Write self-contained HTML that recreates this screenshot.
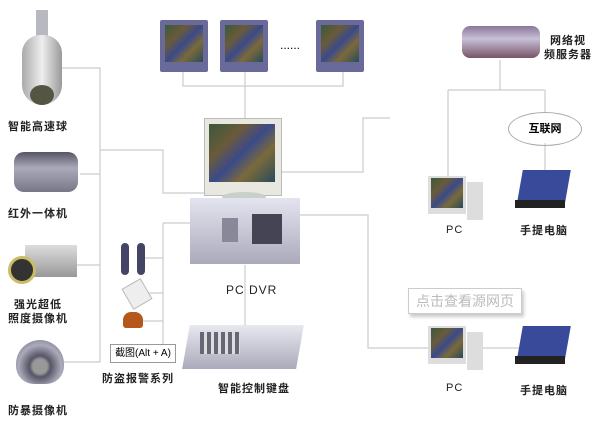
<!DOCTYPE html>
<html><head><meta charset="utf-8"><style>
body{margin:0;width:600px;height:422px;background:#fff;position:relative;overflow:hidden;font-family:"Liberation Sans","Noto Sans CJK SC",sans-serif}
.a{position:absolute}
.l{position:absolute;font-size:11px;font-weight:bold;color:#222;white-space:nowrap;letter-spacing:1px}
.scr{background:linear-gradient(135deg,#3a5a3a,#6a5a3a 30%,#3a4a8a 50%,#7a6a3a 70%,#2a4a5a)}
.mon{position:absolute;background:#6a6a9a;border-radius:2px}
.mon div{position:absolute;left:5px;top:5px;right:5px;bottom:10px}
</style></head><body>
<svg class="a" style="left:0;top:0" width="600" height="422">
<g stroke="#ccc" stroke-width="1.2" fill="none">
<path d="M60 68H100V362H62M80 174H100M75 265H100M100 150H163V193H205"/>
<path d="M183 72V86H343V72M245 72V86M245 86V120"/>
<path d="M280 172H363V118H390"/>
<path d="M300 215H368V348H430"/>
<path d="M163 223V345M145 258H163M145 293H163M143 321H163M163 223H205"/>
<path d="M245 265V325"/>
<path d="M500 60V90M448 90H545M448 90V180M545 90V112M545 143V170M483 348H520"/>
</g></svg>
<!-- left cameras -->
<div class="a" style="left:36px;top:10px;width:12px;height:30px;background:#b8b8c0"></div>
<div class="a" style="left:22px;top:35px;width:40px;height:70px;border-radius:20px 20px 22px 22px;background:linear-gradient(90deg,#aaa,#eee,#999)"></div>
<div class="a" style="left:30px;top:85px;width:24px;height:20px;border-radius:50%;background:#554"></div>
<div class="l" style="left:8px;top:118px">智能高速球</div>
<div class="a" style="left:14px;top:152px;width:64px;height:40px;border-radius:10px;background:linear-gradient(#556,#aab 40%,#778)"></div>
<div class="l" style="left:8px;top:205px">红外一体机</div>
<div class="a" style="left:25px;top:245px;width:52px;height:32px;background:linear-gradient(#ddd,#999)"></div>
<div class="a" style="left:8px;top:256px;width:22px;height:22px;border-radius:50%;background:#333;border:3px solid #cb6"></div>
<div class="l" style="left:14px;top:296px">强光超低</div>
<div class="l" style="left:8px;top:310px">照度摄像机</div>
<div class="a" style="left:16px;top:340px;width:48px;height:44px;border-radius:24px 24px 18px 18px;background:radial-gradient(circle at 50% 60%,#999 20%,#556 30%,#aab 60%,#667)"></div>
<div class="l" style="left:8px;top:402px">防暴摄像机</div>
<!-- monitors -->
<div class="mon" style="left:160px;top:20px;width:48px;height:52px"><div class="scr"></div></div>
<div class="mon" style="left:220px;top:20px;width:48px;height:52px"><div class="scr"></div></div>
<div class="a" style="left:280px;top:38px;font-size:12px">......</div>
<div class="mon" style="left:316px;top:20px;width:48px;height:52px"><div class="scr"></div></div>
<!-- DVR -->
<div class="a" style="left:204px;top:118px;width:76px;height:76px;background:#e8e8e0;border:1px solid #bbb"></div>
<div class="a scr" style="left:209px;top:124px;width:66px;height:58px"></div>
<div class="a" style="left:222px;top:192px;width:44px;height:10px;background:#c8d0c8;border-radius:50%"></div>
<div class="a" style="left:190px;top:198px;width:110px;height:66px;background:linear-gradient(#e4e4f0,#aab)"></div>
<div class="a" style="left:222px;top:218px;width:16px;height:24px;background:#889"></div>
<div class="a" style="left:252px;top:214px;width:30px;height:30px;background:#445"></div>
<div class="l" style="left:226px;top:283px;font-size:12px;font-weight:normal">PC DVR</div>
<div class="a" style="left:186px;top:325px;width:114px;height:44px;background:linear-gradient(#e8e8f0,#aab);transform:skewX(-10deg)"></div>
<div class="a" style="left:200px;top:332px;width:40px;height:22px;background:repeating-linear-gradient(90deg,#667 0 4px,#ddd 4px 7px)"></div>
<div class="l" style="left:218px;top:380px">智能控制键盘</div>
<!-- alarms -->
<div class="a" style="left:121px;top:243px;width:8px;height:32px;border-radius:4px;background:#446"></div>
<div class="a" style="left:137px;top:243px;width:8px;height:32px;border-radius:4px;background:#446"></div>
<div class="a" style="left:126px;top:282px;width:20px;height:22px;background:#eee;border:1px solid #bbb;transform:rotate(-30deg)"></div>
<div class="a" style="left:123px;top:312px;width:20px;height:16px;border-radius:8px 8px 3px 3px;background:#b5561a"></div>
<div class="a" style="left:110px;top:344px;width:64px;height:17px;border:1px solid #999;background:#fff;font-size:10px;line-height:17px;text-align:center">截图(Alt + A)</div>
<div class="l" style="left:102px;top:370px">防盗报警系列</div>
<!-- right -->
<div class="a" style="left:462px;top:26px;width:78px;height:32px;border-radius:8px;background:linear-gradient(#879,#c8c0d8 40%,#756)"></div>
<div class="l" style="left:550px;top:32px">网络视</div>
<div class="l" style="left:544px;top:46px">频服务器</div>
<div class="a" style="left:508px;top:112px;width:72px;height:32px;border:1px solid #aaa;border-radius:50%;font-size:11px;font-weight:bold;text-align:center;line-height:32px">互联网</div>
<div class="a" style="left:428px;top:176px;width:38px;height:38px;background:#ddd"></div>
<div class="a scr" style="left:431px;top:178px;width:32px;height:30px"></div>
<div class="a" style="left:467px;top:182px;width:16px;height:38px;background:#ddd"></div>
<div class="l" style="left:446px;top:224px;font-weight:normal">PC</div>
<div class="a" style="left:520px;top:170px;width:48px;height:32px;background:#3a4a9a;transform:skewX(-10deg)"></div>
<div class="a" style="left:515px;top:200px;width:50px;height:8px;background:#222"></div>
<div class="l" style="left:520px;top:222px">手提电脑</div>
<div class="a" style="left:408px;top:288px;width:112px;height:24px;border:1px solid #ccc;font-size:14px;color:#bbb;line-height:24px;text-align:center;box-shadow:2px 3px 3px #ccc">点击查看源网页</div>
<div class="a" style="left:428px;top:326px;width:38px;height:38px;background:#ddd"></div>
<div class="a scr" style="left:431px;top:328px;width:32px;height:30px"></div>
<div class="a" style="left:467px;top:332px;width:16px;height:38px;background:#ddd"></div>
<div class="l" style="left:446px;top:382px;font-weight:normal">PC</div>
<div class="a" style="left:520px;top:326px;width:48px;height:32px;background:#3a4a9a;transform:skewX(-10deg)"></div>
<div class="a" style="left:515px;top:356px;width:50px;height:8px;background:#222"></div>
<div class="l" style="left:520px;top:382px">手提电脑</div>
</body></html>
